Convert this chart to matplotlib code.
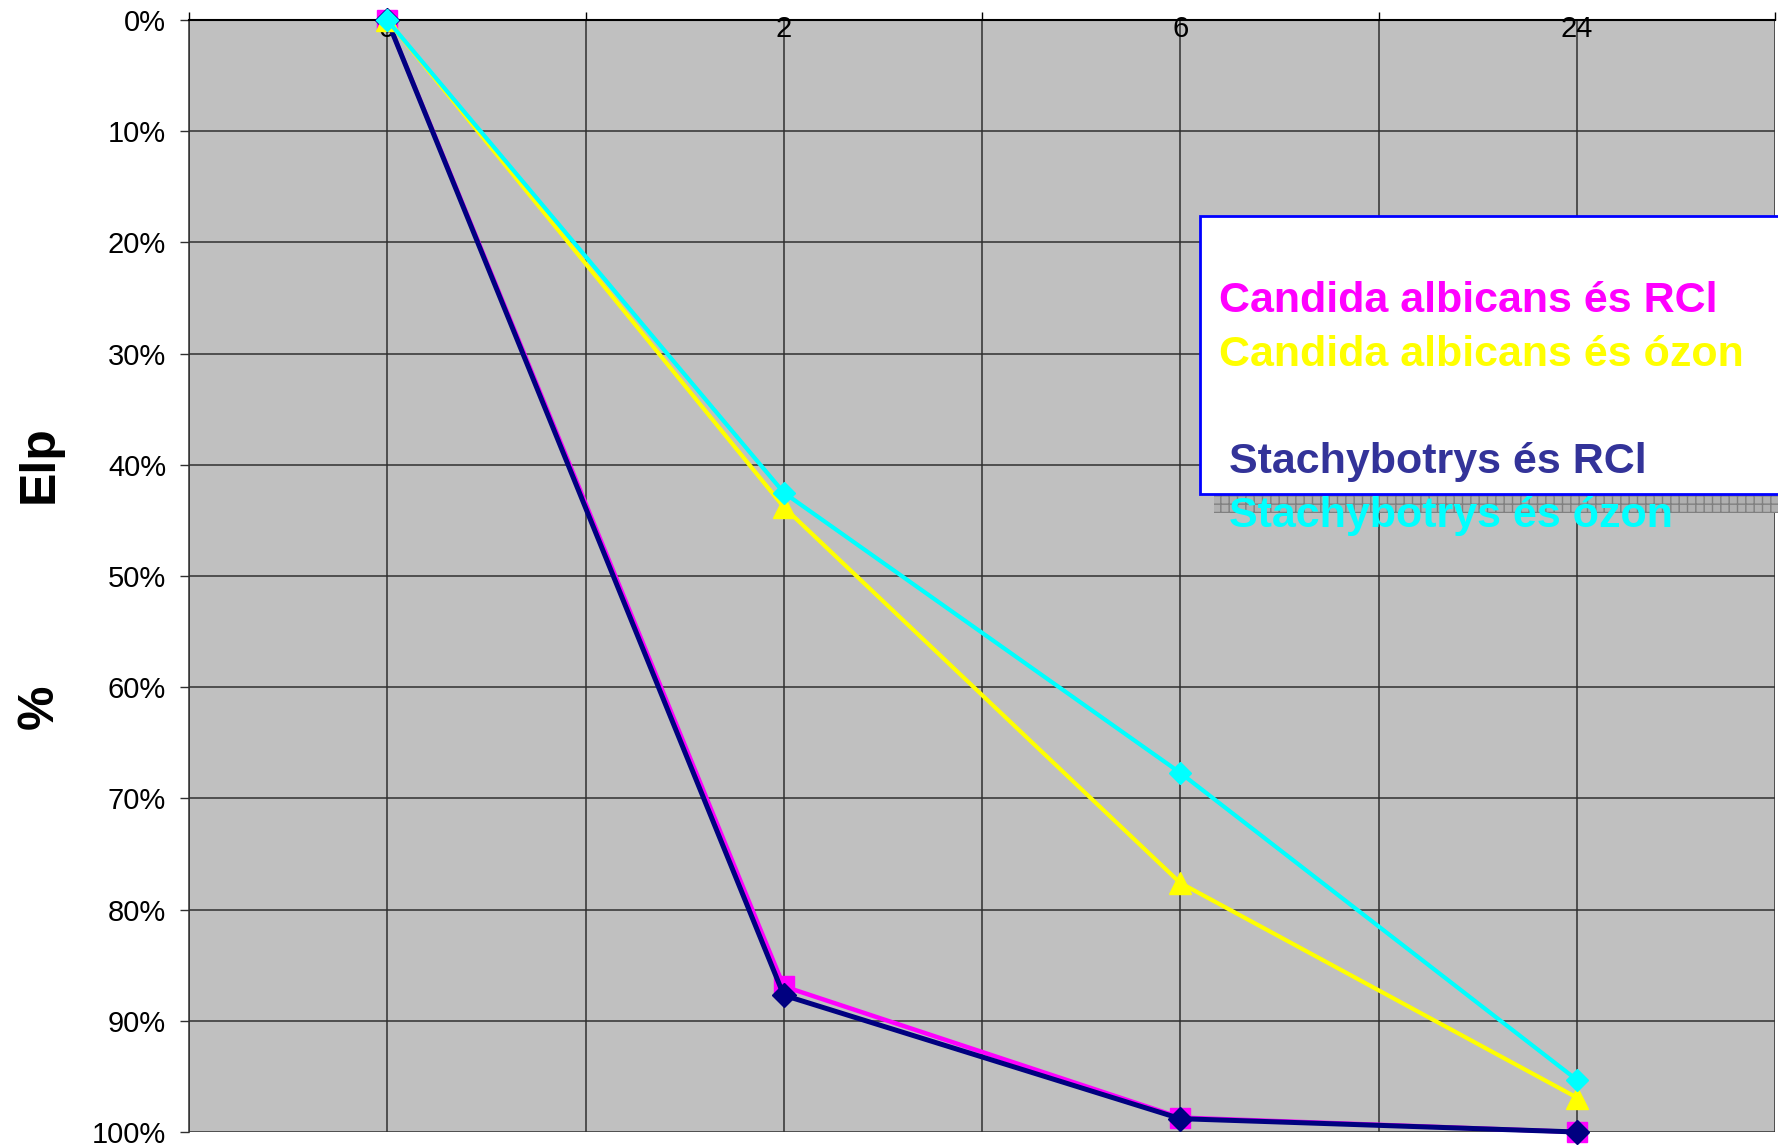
import matplotlib
matplotlib.use("Agg")
import matplotlib.pyplot as plt
from matplotlib.patches import Rectangle
from matplotlib.ticker import FixedLocator, PercentFormatter

plt.rcParams["font.family"] = ["Liberation Sans", "DejaVu Sans"]

# exposure time (h) and killed fraction (%)
hours = ["0", "2", "6", "24"]
candida_rcl = [0, 86.9, 98.7, 100]
stachy_rcl = [0, 87.7, 98.8, 100]
candida_ozon = [0, 43.8, 77.6, 96.9]
stachy_ozon = [0, 42.5, 67.7, 95.3]

series = [
    ("Candida albicans és RCl", candida_rcl, "#FF00FF", "s", 15, 3.2),
    ("Stachybotrys és RCl", stachy_rcl, "#000080", "D", 12, 3.6),
    ("Candida albicans és ózon", candida_ozon, "#FFFF00", "^", 16, 3.0),
    ("Stachybotrys és ózon", stachy_ozon, "#00FFFF", "D", 11, 3.0),
]
label_colors = {
    "Candida albicans és RCl": "#FF00FF",
    "Candida albicans és ózon": "#FFFF00",
    "Stachybotrys és RCl": "#333399",
    "Stachybotrys és ózon": "#00FFFF",
}

W, H = 1778, 1148
fig = plt.figure(figsize=(W / 100, H / 100), dpi=100)
ax = fig.add_axes([189 / W, 1 - 1132 / H, (1775 - 189) / W, (1132 - 20) / H])
ax.set_facecolor("#C0C0C0")

x = list(range(len(hours)))
for name, vals, color, marker, ms, lw in series:
    ax.plot(x, vals, color=color, lw=lw, marker=marker, ms=ms,
            markeredgecolor=color, zorder=3, clip_on=False)

ax.set_xlim(-0.5, len(hours) - 0.5)
ax.set_ylim(100, 0)

# gridlines every half category and every 10 %
for gx in [i * 0.5 - 0.5 for i in range(2 * len(hours) + 1)]:
    ax.axvline(gx, color="#303030", lw=1.1, zorder=1)
for gy in range(10, 101, 10):
    ax.axhline(gy, color="#303030", lw=1.1, zorder=1)

ax.yaxis.set_major_locator(FixedLocator(range(0, 101, 10)))
ax.yaxis.set_major_formatter(PercentFormatter(decimals=0))
ax.tick_params(axis="y", length=6.5, width=1, direction="out", pad=10,
               labelsize=21, color="#303030")

ax.set_xticks(x)
ax.set_xticklabels(hours)
ax.xaxis.set_minor_locator(FixedLocator([i - 0.5 for i in range(len(hours) + 1)]))
ax.tick_params(axis="x", which="major", bottom=False, top=False,
               labelbottom=False, labeltop=True, labelsize=21, pad=-20)
ax.tick_params(axis="x", which="minor", bottom=False, top=True,
               direction="out", length=6, width=1)

for side in ["right", "bottom"]:
    ax.spines[side].set_visible(False)
ax.spines["top"].set_linewidth(1.5)
ax.spines["left"].set_color("#303030")
ax.spines["left"].set_linewidth(1.1)

# y axis title
fig.text(40 / W, 1 - 464 / H, "Elp", rotation=90, ha="center", va="center",
         fontsize=36, fontweight="bold")
fig.text(40 / W, 1 - 707 / H, "%", rotation=90, ha="center", va="center",
         fontsize=36, fontweight="bold")

# legend box with its shadow
fig.patches.append(Rectangle((1214 / W, 1 - 513 / H), (1790 - 1214) / W, 19 / H,
                             transform=fig.transFigure, facecolor="#B0B0B0",
                             edgecolor="#808080", hatch="++", lw=0, zorder=5))
fig.patches.append(Rectangle((1200 / W, 1 - 494 / H), (1790 - 1200) / W, 278 / H,
                             transform=fig.transFigure, facecolor="white",
                             edgecolor="#0000FF", lw=2, zorder=6))

legend_pos = [
    ("Candida albicans és RCl", 1219, 312),
    ("Candida albicans és ózon", 1219, 366),
    ("Stachybotrys és RCl", 1229, 473),
    ("Stachybotrys és ózon", 1229, 527),
]
for name, px, py in legend_pos:
    fig.text(px / W, 1 - py / H, name, color=label_colors[name], fontsize=31,
             fontweight="bold", ha="left", va="baseline", zorder=7)

fig.savefig("out.png", dpi=100)
